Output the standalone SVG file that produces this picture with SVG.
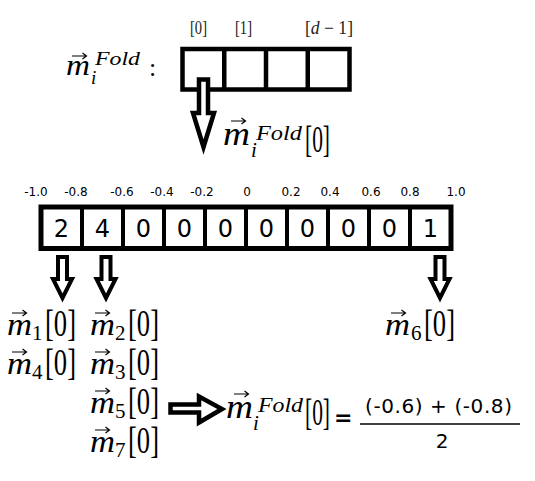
<svg xmlns="http://www.w3.org/2000/svg" xmlns:xlink="http://www.w3.org/1999/xlink" width="535" height="481" viewBox="0 0 535 481">
<style>
.mi{font-family:"Liberation Serif","Times New Roman",serif;font-style:italic;fill:#000}
.mr{font-family:"Liberation Serif","Times New Roman",serif;fill:#000}
.idx{font-family:"Liberation Serif","Times New Roman",serif;font-size:18px;fill:#222}
.tick{font-family:"DejaVu Sans",Verdana,sans-serif;font-size:12px;fill:#000;text-anchor:middle}
.cellv{font-family:"DejaVu Sans",Verdana,sans-serif;font-size:24px;fill:#000;text-anchor:middle}
.sans{font-family:"DejaVu Sans",Verdana,sans-serif;fill:#000}
.box{fill:#fff;stroke:#000}
.div{stroke:#000;fill:none}
.harrow{fill:#fff;stroke:#000;stroke-linejoin:miter;stroke-miterlimit:10}
</style>
<defs>
<path id="vec" d="M0,0 H14 M10.5,-3 L14.5,0 L10.5,3" fill="none" stroke="#000" stroke-width="1.2"/>
</defs>
<rect width="535" height="481" fill="#fff"/>

<!-- top label m_i^Fold : -->
<g id="label-fold-top">
<use xlink:href="#vec" x="72" y="56"/>
<text class="mi" x="66" y="75" font-size="29" textLength="24" lengthAdjust="spacingAndGlyphs">m</text>
<text class="mi" x="91" y="84" font-size="19">i</text>
<text class="mi" x="95" y="65" font-size="18" textLength="45" lengthAdjust="spacingAndGlyphs">Fold</text>
<text class="mr" x="149" y="76" font-size="26">:</text>
</g>

<!-- top array -->
<g id="fold-array">
<rect class="box" x="182.5" y="49" width="167" height="40.5" stroke-width="4.5"/>
<path class="div" stroke-width="4.5" d="M224.25,49 V89.5 M266,49 V89.5 M307.75,49 V89.5"/>
<text class="idx" x="190" y="34" textLength="17" lengthAdjust="spacingAndGlyphs">[0]</text>
<text class="idx" x="235" y="34" textLength="17" lengthAdjust="spacingAndGlyphs">[1]</text>
<text class="idx" x="305" y="34" textLength="48" lengthAdjust="spacingAndGlyphs">[<tspan font-style="italic">d</tspan> − 1]</text>
</g>

<!-- label below top arrow -->
<g id="label-fold-0">
<use xlink:href="#vec" x="231" y="121"/>
<text class="mi" x="223" y="145" font-size="33" textLength="27" lengthAdjust="spacingAndGlyphs">m</text>
<text class="mi" x="251" y="157" font-size="21">i</text>
<text class="mi" x="256" y="140" font-size="21" textLength="46" lengthAdjust="spacingAndGlyphs">Fold</text>
<text class="mr" x="305" y="152" font-size="38" textLength="25" lengthAdjust="spacingAndGlyphs">[0]</text>
</g>

<!-- number line -->
<g id="axis-labels">
<text class="tick" x="36" y="196">-1.0</text>
<text class="tick" x="76" y="196">-0.8</text>
<text class="tick" x="122" y="196">-0.6</text>
<text class="tick" x="162" y="196">-0.4</text>
<text class="tick" x="202" y="196">-0.2</text>
<text class="tick" x="247" y="196">0</text>
<text class="tick" x="291" y="196">0.2</text>
<text class="tick" x="330" y="196">0.4</text>
<text class="tick" x="371" y="196">0.6</text>
<text class="tick" x="410" y="196">0.8</text>
<text class="tick" x="456" y="196">1.0</text>
</g>

<g id="histogram">
<rect class="box" x="41" y="207" width="410" height="41.5" stroke-width="5"/>
<path class="div" stroke-width="4" d="M82,207 V248.5 M123,207 V248.5 M164,207 V248.5 M205,207 V248.5 M246,207 V248.5 M287,207 V248.5 M328,207 V248.5 M369,207 V248.5 M410,207 V248.5"/>
<text class="cellv" x="61.5" y="237">2</text>
<text class="cellv" x="102.5" y="237">4</text>
<text class="cellv" x="143.5" y="237">0</text>
<text class="cellv" x="184.5" y="237">0</text>
<text class="cellv" x="225.5" y="237">0</text>
<text class="cellv" x="266.5" y="237">0</text>
<text class="cellv" x="307.5" y="237">0</text>
<text class="cellv" x="348.5" y="237">0</text>
<text class="cellv" x="389.5" y="237">0</text>
<text class="cellv" x="430.5" y="237">1</text>
</g>

<!-- connectors: hollow block arrows -->
<g id="connectors">
<polygon class="harrow" stroke-width="4.5" points="199,79.5 208,79.5 208,113 214,113 203.5,147 193,113 199,113"/>
<polygon class="harrow" stroke-width="4" points="58,257 67,257 67,279 72,279 62.5,298 53,279 58,279"/>
<polygon class="harrow" stroke-width="4" points="101.5,257 110.5,257 110.5,279 115.5,279 106,298 96.5,279 101.5,279"/>
<polygon class="harrow" stroke-width="4" points="435.5,257 444.5,257 444.5,279 449.5,279 440,298 430.5,279 435.5,279"/>
<polygon class="harrow" stroke-width="4.5" points="170.5,404.5 199,404.5 199,396.5 222,409 199,422.5 199,412.5 170.5,412.5"/>
</g>

<!-- bins -->
<g id="label-m1">
<use xlink:href="#vec" x="12" y="313"/>
<text class="mi" x="7" y="335" font-size="32" textLength="25" lengthAdjust="spacingAndGlyphs">m</text>
<text class="mr" x="32" y="340" font-size="21">1</text>
<text class="mr" x="45" y="336" font-size="38" textLength="31" lengthAdjust="spacingAndGlyphs">[0]</text>
</g>
<g id="label-m4">
<use xlink:href="#vec" x="12" y="352"/>
<text class="mi" x="7" y="374" font-size="32" textLength="25" lengthAdjust="spacingAndGlyphs">m</text>
<text class="mr" x="32" y="379" font-size="21">4</text>
<text class="mr" x="45" y="375" font-size="38" textLength="31" lengthAdjust="spacingAndGlyphs">[0]</text>
</g>
<g id="label-m2">
<use xlink:href="#vec" x="95" y="313"/>
<text class="mi" x="90" y="335" font-size="32" textLength="25" lengthAdjust="spacingAndGlyphs">m</text>
<text class="mr" x="115" y="340" font-size="21">2</text>
<text class="mr" x="128" y="336" font-size="38" textLength="31" lengthAdjust="spacingAndGlyphs">[0]</text>
</g>
<g id="label-m3">
<use xlink:href="#vec" x="95" y="352"/>
<text class="mi" x="90" y="374" font-size="32" textLength="25" lengthAdjust="spacingAndGlyphs">m</text>
<text class="mr" x="115" y="379" font-size="21">3</text>
<text class="mr" x="128" y="375" font-size="38" textLength="31" lengthAdjust="spacingAndGlyphs">[0]</text>
</g>
<g id="label-m5">
<use xlink:href="#vec" x="95" y="391"/>
<text class="mi" x="90" y="413" font-size="32" textLength="25" lengthAdjust="spacingAndGlyphs">m</text>
<text class="mr" x="115" y="418" font-size="21">5</text>
<text class="mr" x="128" y="414" font-size="38" textLength="31" lengthAdjust="spacingAndGlyphs">[0]</text>
</g>
<g id="label-m7">
<use xlink:href="#vec" x="95" y="430"/>
<text class="mi" x="90" y="452" font-size="32" textLength="25" lengthAdjust="spacingAndGlyphs">m</text>
<text class="mr" x="115" y="457" font-size="21">7</text>
<text class="mr" x="128" y="453" font-size="38" textLength="31" lengthAdjust="spacingAndGlyphs">[0]</text>
</g>
<g id="label-m6">
<use xlink:href="#vec" x="391" y="313"/>
<text class="mi" x="385" y="335" font-size="32" textLength="25" lengthAdjust="spacingAndGlyphs">m</text>
<text class="mr" x="411" y="340" font-size="21">6</text>
<text class="mr" x="424" y="336" font-size="38" textLength="31" lengthAdjust="spacingAndGlyphs">[0]</text>
</g>

<!-- result formula -->
<g id="result">
<use xlink:href="#vec" x="234" y="394"/>
<text class="mi" x="226" y="418" font-size="33" textLength="27" lengthAdjust="spacingAndGlyphs">m</text>
<text class="mi" x="253" y="430" font-size="21">i</text>
<text class="mi" x="258" y="412" font-size="21" textLength="45" lengthAdjust="spacingAndGlyphs">Fold</text>
<text class="mr" x="305" y="425" font-size="38" textLength="25" lengthAdjust="spacingAndGlyphs">[0]</text>
<text class="sans" x="334" y="425" font-size="22" font-weight="bold">=</text>
<text class="sans" x="365" y="413" font-size="20" textLength="147" lengthAdjust="spacing">(-0.6) + (-0.8)</text>
<line x1="360" y1="424" x2="520" y2="424" stroke="#000" stroke-width="1.3"/>
<text class="sans" x="442" y="448" font-size="20" text-anchor="middle">2</text>
</g>
</svg>
